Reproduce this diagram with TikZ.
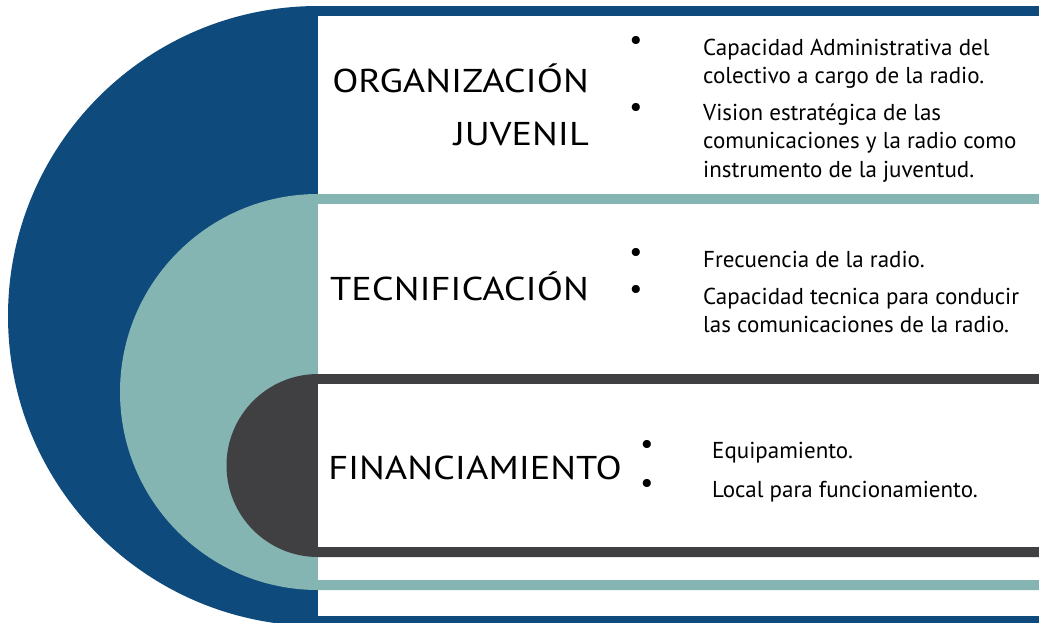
\documentclass[tikz,border=0pt]{standalone}
\usepackage{fontspec}
\setmainfont{PT Sans}
\newfontfamily\headfont{PT Sans}[FakeStretch=1.16]
\definecolor{cblue}{RGB}{14,74,124}
\definecolor{cteal}{RGB}{132,181,179}
\definecolor{cgray}{RGB}{64,64,66}
\begin{document}
\begin{tikzpicture}[x=1pt,y=1pt,
  head/.style={font=\headfont\fontsize{33}{40}\selectfont, inner sep=0pt, anchor=base east, text=black},
  item/.style={font=\fontsize{23}{28}\selectfont, inner sep=0pt, anchor=base west, text=black},
  bul/.style={font=\fontsize{29}{30}\selectfont, inner sep=0pt, anchor=center, text=black}]
\useasboundingbox (0,0) rectangle (1039,-622);
\begin{scope}
\clip (0,0) rectangle (1039,-622);
\fill[cblue] (318,-6) arc[start angle=90,end angle=270,radius=310] -- (1039,-626) -- (1039,-6) -- cycle;
\fill[white] (318,-16) rectangle (1039,-616);
\fill[cteal] (318,-194) arc[start angle=90,end angle=270,radius=198] -- (1039,-590) -- (1039,-194) -- cycle;
\fill[white] (318,-204) rectangle (1039,-580);
\fill[cgray] (318,-374) arc[start angle=90,end angle=270,radius=91.5] -- (1039,-557) -- (1039,-374) -- cycle;
\fill[white] (318,-384) rectangle (1039,-547);
\end{scope}
% headings
\node[head] (h1a) at (589,-92) {ORGANIZACIÓN};
\node[head] (h1b) at (589,-145) {JUVENIL};
\node[head] (h2) at (589,-300) {TECNIFICACIÓN};
\node[head] (h3) at (622,-479) {FINANCIAMIENTO};
% block 1
\node[bul] (b1) at (636,-43) {•};
\node[bul] (b2) at (636,-110) {•};
\node[item] (t1a) at (703,-55) {Capacidad Administrativa del};
\node[item] (t1b) at (703,-83) {colectivo a cargo de la radio.};
\node[item] (t2a) at (703,-120) {Vision estratégica de las};
\node[item] (t2b) at (703,-148) {comunicaciones y la radio como};
\node[item] (t2c) at (703,-177) {instrumento de la juventud.};
% block 2
\node[bul] (b3) at (636,-255) {•};
\node[bul] (b4) at (636,-292) {•};
\node[item] (t3a) at (703,-267) {Frecuencia de la radio.};
\node[item] (t4a) at (703,-304) {Capacidad tecnica para conducir};
\node[item] (t4b) at (703,-332) {las comunicaciones de la radio.};
% block 3
\node[bul] (b5) at (647,-447) {•};
\node[bul] (b6) at (647,-486) {•};
\node[item] (t5a) at (712,-458) {Equipamiento.};
\node[item] (t6a) at (712,-497) {Local para funcionamiento.};
\end{tikzpicture}
\end{document}
